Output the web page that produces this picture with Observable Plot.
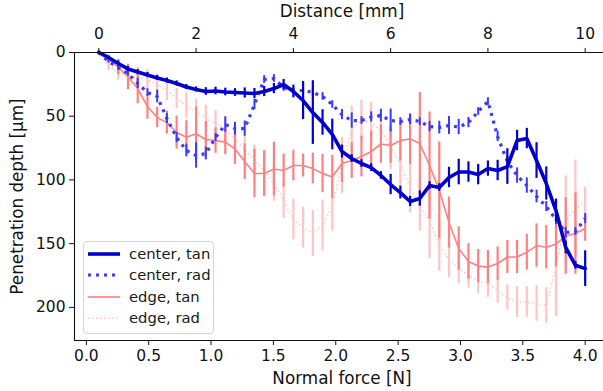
<!DOCTYPE html>
<html>
<head>
<meta charset="utf-8">
<script src="https://cdn.jsdelivr.net/npm/d3@7"></script>
<script src="https://cdn.jsdelivr.net/npm/@observablehq/plot@0.6"></script>
<style>
  html, body { margin: 0; padding: 0; background: #fff; overflow: hidden; }
  #wrap { position: relative; width: 603px; height: 391px; font-family: "DejaVu Sans", sans-serif; }
  #legend { position: absolute; left: 83px; top: 241px; width: 131px; height: 93px;
            border: 1px solid #d4d4d4; border-radius: 4px; background: rgba(255,255,255,0.85); box-sizing: border-box; }
  .lrow { position: absolute; left: 0; height: 20px; display: flex; align-items: center; }
  .lrow svg { position: absolute; left: 3px; top: 0; }
  .lrow span { position: absolute; left: 45px; white-space: nowrap; font-size: 14.8px; color: #1a1a1a; line-height: 20px; top: 0; }
</style>
</head>
<body>
<div id="wrap"></div>
<script>
// x grid: scan distance in mm
const distance = [0,0.2,0.4,0.6,0.8,1.0,1.2,1.4,1.6,1.8,2.0,2.2,2.4,2.6,2.8,3.0,3.2,3.4,3.6,3.8,4.0,4.2,4.4,4.6,4.8,5.0,5.2,5.4,5.6,5.8,6.0,6.2,6.4,6.6,6.8,7.0,7.2,7.4,7.6,7.8,8.0,8.2,8.4,8.6,8.8,9.0,9.2,9.4,9.6,9.8,10.0];

// penetration depth (µm) and error (µm)
const centerTan = [0,3.9,8.6,12.9,15.3,17.7,20,22,24.3,27.1,29,30.6,30.2,31,31.4,31.8,32.2,30.6,28.3,25.1,30.6,37.7,47.1,54.9,64.3,77.7,83.2,87.1,90.3,96.5,103.6,109.9,116.9,114.6,104.4,106,98.1,93.8,93.8,95.8,91.1,92.6,89.5,69.1,67.5,84.8,102.8,124,153,167,169.6];
const centerTanErr = [1,1,2,2,2,2,2,2,2,2,2,3,3,3,3,4,4,4,4,4,5,15,25,10,12,5,3,3,3,3,8,5,4,6,3,3,8,10,8,8,6,8,14,8,8,14,13,9,5,3,14];

const centerRad = [0,7.1,11.8,16.5,24.3,31.4,34.5,51.8,66.7,76.9,80.8,79.3,66.7,56.5,59.7,59.7,40.8,21.2,20.4,27.5,29.8,29.8,31.4,34.5,40.8,48.7,53.4,53.4,50.6,49.5,53.4,54.2,52.6,54.2,58.1,58.9,57.3,58.5,55,46.3,38.5,65.9,85.6,96.6,104.4,113,120.9,131.1,141.3,140.5,130.3];
const centerRadErr = [1,1,2,2,4,3,5,4,4,5,10,5,3,6,5,6,4,3,3,3,2,3,3,3,3,4,6,3,4,5,9,3,4,3,4,5,7,6,4,3,3,4,4,6,6,5,4,4,4,3,4];

const edgeTan = [0,5.5,11.5,19.2,28.3,42.4,51,55,62.8,66.5,63.8,68.3,69.1,70.3,75.7,85.6,95,95,91.4,92.6,88.7,88.7,91.1,95,97.7,87.1,84.8,81.6,77.7,71.8,73,69.1,67.8,71.4,88.7,108.3,133.4,153.8,164,167.6,168.4,165.6,160.5,160.5,156.8,151.5,152.8,150.3,144,142.1,138.1];
const edgeTanErr = [1,3,6,10,12,10,8,9,13,13,21,14,10,10,12,14,19,18,21,13,12,9,12,15,17,15,14,16,16,15,14,16,20,40,42,38,20,17,14,13,13,13,13,13,14,17,17,18,30,32,10];

const edgeRad = [0,10.2,15.7,18.1,19.6,21.2,25.1,29.8,36.1,41.6,46.7,51.4,55.7,60.4,68.3,76.1,84.8,92.6,102.8,116.2,131.1,137.4,142.1,135.8,120.1,88.7,60.4,53.4,54.9,61.2,73.8,87.1,106,120.1,131.9,151.5,162.5,169.5,175,178.9,182.1,186.8,192.3,195.8,195.8,197,198.6,167.2,131.9,122.4,117.7];
const edgeRadErr = [1,4,6,6,8,8,8,8,8,10,10,10,10,10,12,12,12,14,14,14,16,16,18,20,20,22,18,16,16,16,18,18,20,20,30,20,14,12,10,10,10,10,10,12,12,14,14,40,35,38,12];

// axis ticks
const distanceTicks = [0,2,4,6,8,10];
const forceTicks = [0.0,0.5,1.0,1.5,2.0,2.5,3.0,3.5,4.0];
const depthTicks = [0,50,100,150,200];
// force at distance 0 and force per mm (twin axis relation)
const force0 = 0.1, forcePerMm = 0.39;

const series = [
  {name: "center, tan", values: centerTan, err: centerTanErr, color: "#0000cc", width: 3.6, dash: null, ebw: 2.2},
  {name: "center, rad", values: centerRad, err: centerRadErr, color: "#3a3aff", width: 3.2, dash: "3,5", ebw: 2},
  {name: "edge, tan", values: edgeTan, err: edgeTanErr, color: "#ff8080", width: 1.6, dash: null, ebw: 2.2},
  {name: "edge, rad", values: edgeRad, err: edgeRadErr, color: "#ffc4c4", width: 1.5, dash: "1.5,2.5", ebw: 2.2}
];

function rowsOf(s) {
  return distance.map((d, i) => ({d, v: s.values[i], lo: s.values[i] - s.err[i], hi: s.values[i] + s.err[i]}));
}

const drawOrder = [3, 2, 1, 0];
const marks = [];
for (const k of drawOrder) {
  const s = series[k];
  const rows = rowsOf(s);
  marks.push(Plot.ruleX(rows, {x: "d", y1: "lo", y2: "hi", stroke: s.color, strokeWidth: s.ebw}));
  marks.push(Plot.line(rows, {x: "d", y: "v", stroke: s.color, strokeWidth: s.width,
    strokeDasharray: s.dash || undefined, strokeLinecap: s.dash ? "butt" : "round", strokeLinejoin: "round"}));
}

const tickFont = 15.5, labelFont = 16.8;
const frameStroke = "#111";
marks.push(
  Plot.ruleY([0], {stroke: frameStroke, strokeWidth: 1.1}),
  Plot.ruleY([226], {stroke: frameStroke, strokeWidth: 1.1}),
  Plot.ruleX([-0.5], {stroke: frameStroke, strokeWidth: 1.1}),
  Plot.axisX(distanceTicks, {anchor: "top", tickSize: 5, tickPadding: 9, fontSize: tickFont, label: null, tickFormat: d => String(d), stroke: frameStroke}),
  Plot.axisX(forceTicks.map(f => (f - force0) / forcePerMm), {anchor: "bottom", tickSize: 5, tickPadding: 4, fontSize: tickFont, label: null,
    tickFormat: (d, i) => forceTicks[i].toFixed(1), stroke: frameStroke}),
  Plot.axisY(depthTicks, {anchor: "left", tickSize: 5, tickPadding: 4, fontSize: tickFont, label: null, tickFormat: d => String(d), stroke: frameStroke}),
  Plot.text(["Normal force [N]"], {text: d => d, frameAnchor: "bottom", dy: 38, lineAnchor: "middle", textAnchor: "middle", fontSize: labelFont, fill: "#111"}),
  Plot.text(["Distance [mm]"], {text: d => d, frameAnchor: "top", dy: -41, lineAnchor: "middle", textAnchor: "middle", fontSize: labelFont, fill: "#111"}),
  Plot.text(["Penetration depth [µm]"], {text: d => d, frameAnchor: "left", dx: -57, rotate: -90, lineAnchor: "middle", textAnchor: "middle", fontSize: labelFont, fill: "#111"})
);

const chart = Plot.plot({
  width: 603, height: 391,
  marginLeft: 74, marginTop: 52, marginBottom: 51, marginRight: -6,
  x: {domain: [-0.5, 10.5], range: [74, 609]},
  y: {domain: [0, 226], range: [52, 340]},
  style: {fontFamily: "DejaVu Sans, sans-serif", color: "#111", background: "transparent", overflow: "hidden"},
  marks
});

const wrap = document.getElementById("wrap");
wrap.appendChild(chart);

// legend (HTML overlay inside plot area)
const legend = document.createElement("div");
legend.id = "legend";
series.forEach((s, i) => {
  const row = document.createElement("div");
  row.className = "lrow";
  row.style.top = (2 + i * 21.4) + "px";
  row.style.width = "129px";
  const svg = d3.create("svg").attr("width", 34).attr("height", 20);
  svg.append("line").attr("x1", 1).attr("x2", 33).attr("y1", 10).attr("y2", 10)
    .attr("stroke", s.color).attr("stroke-width", s.width)
    .attr("stroke-dasharray", s.dash || null);
  row.appendChild(svg.node());
  const t = document.createElement("span");
  t.textContent = s.name;
  row.appendChild(t);
  legend.appendChild(row);
});
wrap.appendChild(legend);
</script>
</body>
</html>
